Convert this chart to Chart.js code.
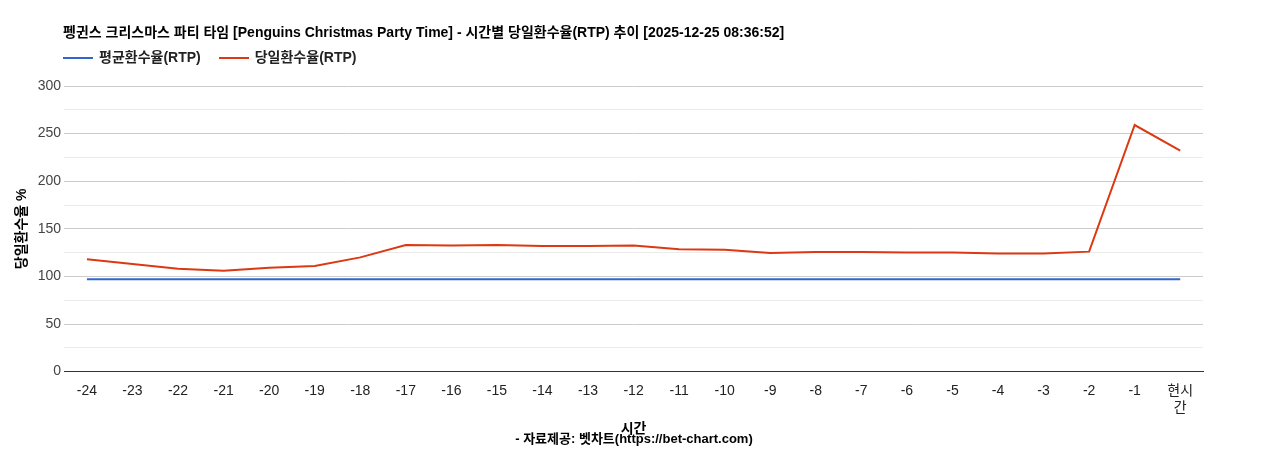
<!DOCTYPE html>
<html>
<head>
<meta charset="utf-8">
<script src="https://cdn.jsdelivr.net/npm/chart.js@4/dist/chart.umd.min.js"></script>
<style>
  body { margin: 0; background: #fff; font-family: "Liberation Sans", Arial, "Noto Sans CJK KR", sans-serif; }
  #wrap { position: relative; width: 1268px; height: 450px; }
  #title { position: absolute; left: 63px; top: 21px; font-size: 14px; font-weight: bold; color: #000; }
  #legend { position: absolute; left: 63px; top: 46px; font-size: 14px; font-weight: bold; color: #222; }
  #legend span { margin-right: 18px; }
  #legend i { display: inline-block; width: 30px; height: 2px; vertical-align: middle; margin-right: 6px; }
  #foot { position: absolute; left: 0; width: 1268px; top: 428px; text-align: center; font-size: 13px; font-weight: bold; }
</style>
</head>
<body>
<div id="wrap">
  <div id="title">펭귄스 크리스마스 파티 타임 [Penguins Christmas Party Time] - 시간별 당일환수율(RTP) 추이 [2025-12-25 08:36:52]</div>
  <div id="legend"><span><i style="background:#3366cc"></i>평균환수율(RTP)</span><span><i style="background:#dc3912"></i>당일환수율(RTP)</span></div>
  <canvas id="c" width="1268" height="450"></canvas>
  <div id="foot">- 자료제공: 벳차트(https://bet-chart.com)</div>
</div>
<script>
const hours = ['-24','-23','-22','-21','-20','-19','-18','-17','-16','-15','-14','-13','-12','-11','-10','-9','-8','-7','-6','-5','-4','-3','-2','-1',['현시','간']];
const avgRtp = Array(25).fill(97);
const dayRtp = [118, 113, 108, 106, 109, 111, 120, 133, 132.5, 133, 132, 132, 132.5, 128.5, 128, 124.5, 125.5, 125.5, 125, 125, 124, 124, 126, 259, 232];

Chart.defaults.font.family = '"Liberation Sans", Arial, "Noto Sans CJK KR", sans-serif';

new Chart(document.getElementById('c'), {
  type: 'line',
  data: {
    labels: hours,
    datasets: [
      { label: '평균환수율(RTP)', data: avgRtp, borderColor: '#3366cc', borderWidth: 2, pointRadius: 0, tension: 0 },
      { label: '당일환수율(RTP)', data: dayRtp, borderColor: '#dc3912', borderWidth: 2, pointRadius: 0, tension: 0 }
    ]
  },
  options: {
    responsive: false,
    animation: false,
    layout: { padding: { left: 10, right: 65, top: 86, bottom: 8 } },
    plugins: { legend: { display: false }, tooltip: { enabled: false } },
    scales: {
      x: {
        offset: true,
        grid: { display: false },
        border: { color: '#333' },
        ticks: { color: '#222', font: { size: 14 }, maxRotation: 0, autoSkip: false },
        title: { display: true, text: '시간', color: '#000', font: { size: 14, weight: 'bold' }, padding: { top: 2 } }
      },
      y: {
        min: 0, max: 300,
        ticks: { stepSize: 25, color: '#444', font: { size: 14 }, callback: v => v % 50 === 0 ? v : '' },
        grid: { color: ctx => ctx.tick.value % 50 === 0 ? '#cccccc' : '#ebebeb', drawTicks: false },
        border: { display: false },
        title: { display: true, text: '당일환수율 %', color: '#000', font: { size: 14, weight: 'bold' } }
      }
    }
  }
});
</script>
</body>
</html>
